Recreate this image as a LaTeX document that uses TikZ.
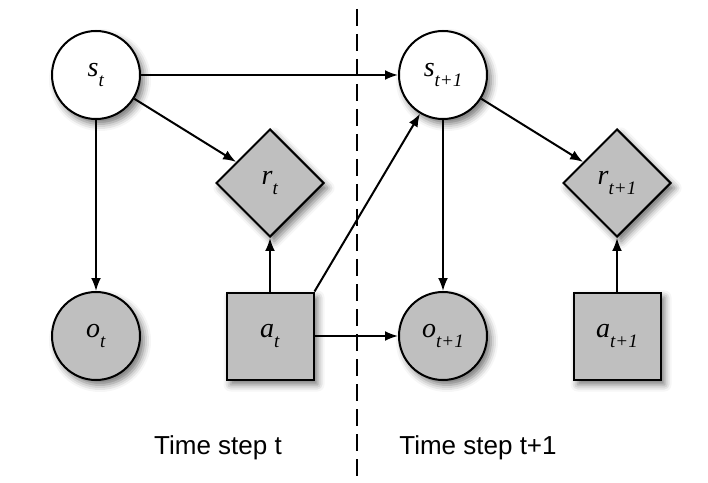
\documentclass[tikz,border=0pt]{standalone}
\usepackage{fontspec}
\setmainfont{Liberation Serif}
\newfontfamily\stepfont{Liberation Sans}
\usetikzlibrary{shapes.geometric, arrows.meta, positioning, shadows.blur}
\tikzstyle{soft}=[blur shadow={shadow xshift=4pt,shadow yshift=-5pt,shadow blur radius=7pt,shadow opacity=55}]
\tikzstyle{hidden}=[draw,circle,fill=white,minimum size=88pt,inner sep=0pt,line width=2pt,soft]
\tikzstyle{observed}=[hidden,fill=gray!50]
\tikzstyle{reward}=[draw,diamond,fill=gray!50,minimum width=108pt,minimum height=108pt,inner sep=0pt,line width=2pt,soft]
\tikzstyle{action}=[draw,rectangle,fill=gray!50,minimum size=87pt,inner sep=0pt,line width=2pt,soft]
\tikzstyle{steplabel}=[font=\stepfont\fontsize{26}{30}\selectfont]
\newcommand{\varlbl}[2]{\fontsize{28}{32}\selectfont\textit{#1}\raisebox{-10pt}{\fontsize{19}{22}\selectfont\textit{#2}}}

\begin{document}
\begin{tikzpicture}[x=1pt,y=1pt,>={Latex[length=13pt,width=10pt]},line width=2pt]
    \useasboundingbox (0,0) rectangle (708,482);
    % time step t
    \node[hidden] (st) at (96,407) {\varlbl{s}{t}};
    \node[observed, below of=st, node distance=261pt] (ot) {\varlbl{o}{t}};
    \node[reward] (rt) at (270,299) {\varlbl{r}{t}};
    \node[action, below of=rt, node distance=153pt] (at) {\varlbl{a}{t}};
    % time step t+1
    \node[hidden, right of=st, node distance=347pt] (st1) {\varlbl{s}{t+1}};
    \node[observed, below of=st1, node distance=261pt] (ot1) {\varlbl{o}{t+1}};
    \node[reward, right of=rt, node distance=347pt] (rt1) {\varlbl{r}{t+1}};
    \node[action, below of=rt1, node distance=153pt] (at1) {\varlbl{a}{t+1}};
    % divider
    \coordinate (divtop) at (357,473);
    \coordinate (divbot) at (357,6);
    \draw[dash pattern=on 17pt off 8pt] (divtop) -- (divbot);
    \node[steplabel] (labt) at (218,34) {Time step t};
    \node[steplabel] (labt1) at (478,34) {Time step t+1};
    % edges
    \draw[->] (st) -- (st1);
    \draw[->] (st) -- (rt);
    \draw[->] (st) -- (ot);
    \draw[->] (at) -- (rt);
    \draw[->] (at.north east) -- (st1);
    \draw[->] (at) -- (ot1);
    \draw[->] (st1) -- (ot1);
    \draw[->] (st1) -- (rt1);
    \draw[->] (at1) -- (rt1);
\end{tikzpicture}
\end{document}
